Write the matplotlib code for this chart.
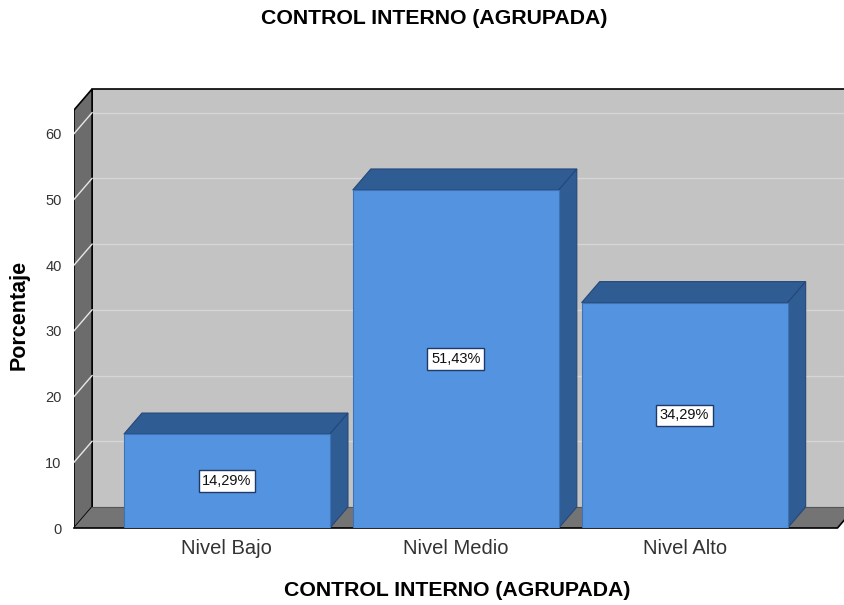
import matplotlib.pyplot as plt
from matplotlib.patches import Polygon

plt.rcParams['font.family'] = ['Liberation Sans', 'DejaVu Sans']

categories = ['Nivel Bajo', 'Nivel Medio', 'Nivel Alto']
percent = [14.29, 51.43, 34.29]
bar_labels = ['14,29%', '51,43%', '34,29%']
yticks = [0, 10, 20, 30, 40, 50, 60]

title = 'CONTROL INTERNO (AGRUPADA)'

# fake 3d depth (data units) and frame limits
dx, dy = 0.079, 3.2
x0, x1 = -0.668, 2.668
ytop = 63.6
width = 0.9

front_c = '#5493e0'
dark_c = '#2f5c93'
wall_c = '#c3c3c3'
floor_c = '#747474'
side_c = '#6c6c6c'

fig = plt.figure(figsize=(8.45, 6.05), dpi=100)
ax = fig.add_axes([74 / 845, 77 / 605, 771 / 845, 439 / 605])
ax.set_xlim(x0, (845 - 226.5) / 229)
ax.set_ylim(0, ytop + dy)
for s in ax.spines.values():
    s.set_visible(False)

# back wall
ax.add_patch(Polygon([(x0 + dx, dy), (x1 + dx + 0.2, dy), (x1 + dx + 0.2, ytop + dy),
                      (x0 + dx, ytop + dy)], closed=True, facecolor=wall_c,
                     edgecolor='none', zorder=1, clip_on=False))
for v in yticks[1:]:
    ax.plot([x0 + dx, x1 + dx + 0.2], [v + dy, v + dy], color='#d6d6d6', lw=1,
            zorder=1.5, clip_on=False)
    ax.plot([x0, x0 + dx], [v, v + dy], color='#e8e8e8', lw=1, zorder=2.5)
ax.plot([x0 + dx, x1 + dx + 0.2], [ytop + dy, ytop + dy], color='black', lw=1.2,
        zorder=2, clip_on=False)
ax.plot([x0 + dx, x0 + dx], [dy, ytop + dy], color='black', lw=1.2, zorder=2)

# side wall
ax.add_patch(Polygon([(x0, 0), (x0, ytop), (x0 + dx, ytop + dy), (x0 + dx, dy)],
                     closed=True, facecolor=side_c, edgecolor='black', lw=1.2,
                     zorder=2))

# floor
ax.add_patch(Polygon([(x0, 0), (x1, 0), (x1 + dx, dy), (x0 + dx, dy)],
                     closed=True, facecolor=floor_c, edgecolor='none', zorder=2))
ax.plot([x0, x1, x1 + dx], [0, 0, dy], color='black', lw=1.2, zorder=2.2,
        clip_on=False)
ax.plot([x0 + dx, x1 + dx], [dy, dy], color='#555555', lw=0.8, zorder=2.1)

# bars
xs = list(range(len(categories)))
ax.bar(xs, percent, width=width, color=front_c, edgecolor='#3d73b5', lw=0.8,
       zorder=4)
for x, v, lab in zip(xs, percent, bar_labels):
    l, r = x - width / 2, x + width / 2
    ax.add_patch(Polygon([(l, v), (r, v), (r + dx, v + dy), (l + dx, v + dy)],
                         closed=True, facecolor=dark_c, edgecolor='#24487a',
                         lw=0.8, zorder=3))
    ax.add_patch(Polygon([(r, 0), (r, v), (r + dx, v + dy), (r + dx, dy)],
                         closed=True, facecolor=dark_c, edgecolor='#24487a',
                         lw=0.8, zorder=3))
    ax.text(x, v / 2, lab, ha='center', va='center', fontsize=10.5, zorder=6,
            color='#111111',
            bbox=dict(boxstyle='square,pad=0.25', fc='white', ec='#1f3a66', lw=1))

ax.set_yticks(yticks)
ax.set_yticklabels([str(t) for t in yticks], fontsize=10.5, color='#333333')
ax.tick_params(axis='y', length=0, pad=9)
ax.set_xticks(xs)
ax.set_xticklabels(categories, fontsize=14.5, color='#333333')
ax.tick_params(axis='x', length=0, pad=8)

fig.text(19 / 845, 1 - 315 / 605, 'Porcentaje', rotation=90, ha='center',
         va='center', fontsize=15.5, fontweight='bold')
fig.text(457 / 845, 1 - 591 / 605, title, ha='center', va='center',
         fontsize=15.3, fontweight='bold')
fig.text(434 / 845, 1 - 18 / 605, title, ha='center', va='center',
         fontsize=15.3, fontweight='bold')

fig.savefig('out.png', dpi=100)
